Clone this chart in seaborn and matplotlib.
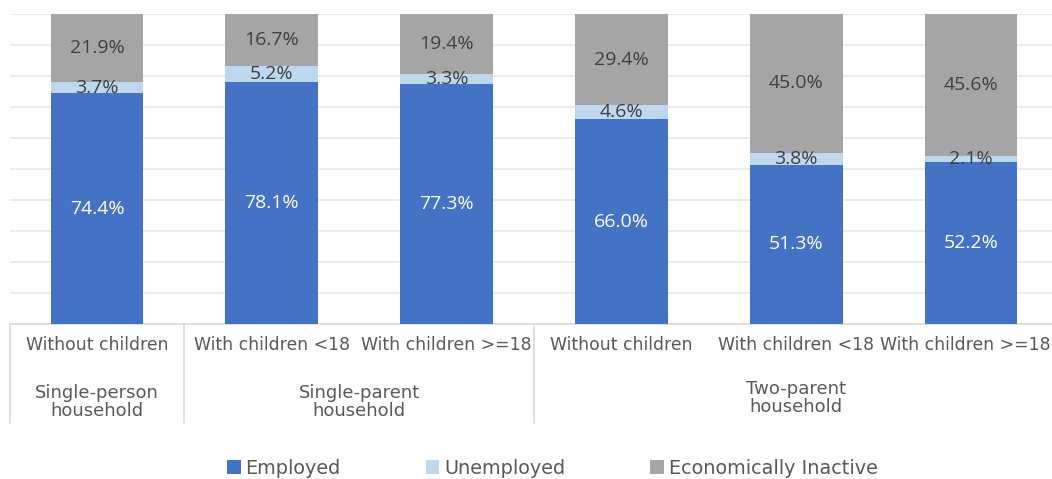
import matplotlib
matplotlib.use("Agg")
import matplotlib.pyplot as plt
import matplotlib.transforms as mtransforms
from matplotlib.patches import Patch
import seaborn as sns
import pandas as pd

# ---- data ----
sub_labels = ["Without children", "With children <18", "With children >=18",
              "Without children", "With children <18", "With children >=18"]
group_labels = ["Single-person\nhousehold", "Single-parent\nhousehold", "Two-parent\nhousehold"]
group_spans = [(0, 0), (1, 2), (3, 5)]
employed = [74.4, 78.1, 77.3, 66.0, 51.3, 52.2]
unemployed = [3.7, 5.2, 3.3, 4.6, 3.8, 2.1]
inactive = [21.9, 16.7, 19.4, 29.4, 45.0, 45.6]
series_names = ["Employed", "Unemployed", "Economically Inactive"]
series_colors = ["#4472C4", "#BDD7EE", "#A5A5A5"]
label_colors = ["white", "#404040", "#404040"]

sns.set_theme(style="white")
plt.rcParams["font.family"] = ["DejaVu Sans"]

W, H = 1052, 479
fig = plt.figure(figsize=(W / 100, H / 100), dpi=100)
ax_left, ax_right, ax_top, ax_bottom = 9.6, 1058.5, 14, 324
ax = fig.add_axes([ax_left / W, (H - ax_bottom) / H,
                   (ax_right - ax_left) / W, (ax_bottom - ax_top) / H])

keys = [f"c{i}" for i in range(len(sub_labels))]
df = pd.DataFrame({"key": keys, "Employed": employed,
                   "Unemployed": unemployed, "Economically Inactive": inactive})

bottom = [0.0] * len(keys)
for name, col, lc in zip(series_names, series_colors, label_colors):
    vals = df[name].tolist()
    sns.barplot(data=df, x="key", y=name, order=keys, color=col,
                bottom=bottom, width=0.53, ax=ax, saturation=1,
                edgecolor="none", linewidth=0, zorder=3)
    for i, v in enumerate(vals):
        ax.text(i, bottom[i] + v / 2, f"{v:.1f}%", ha="center", va="center",
                color=lc, fontsize=14, family=["Open Sans", "DejaVu Sans"], zorder=5)
    bottom = [b + v for b, v in zip(bottom, vals)]

ax.set_ylim(0, 100)
ax.set_xlim(-0.5, len(keys) - 0.5)
ax.set_yticks(range(0, 101, 10))
ax.set_yticklabels([])
ax.tick_params(axis="y", length=0)
ax.yaxis.grid(True, color="#E7E7E7", linewidth=1.2, zorder=0)
ax.set_axisbelow(True)
for s in ["top", "right", "left"]:
    ax.spines[s].set_visible(False)
ax.spines["bottom"].set_color("#D9D9D9")
ax.spines["bottom"].set_linewidth(1.2)
ax.set_xlabel("")
ax.set_ylabel("")
ax.set_xticks(range(len(keys)))
ax.set_xticklabels(sub_labels, fontsize=12.4, color="#595959")
ax.tick_params(axis="x", length=0, pad=9)
# nudge the last tick label left so it stays inside the figure
last = ax.get_xticklabels()[-1]
last.set_transform(last.get_transform() +
                   mtransforms.ScaledTranslation(-6 / 100, 0, fig.dpi_scale_trans))

trans = mtransforms.blended_transform_factory(ax.transData, ax.transAxes)
ax_h = ax_bottom - ax_top
sep_bottom = -(423 - ax_bottom) / ax_h
for xs in [-0.5, 0.5, 2.5]:
    ax.plot([xs, xs], [0, sep_bottom], transform=trans, color="#D9D9D9",
            linewidth=1.2, clip_on=False)

group_y = [402, 402, 398]
for (a, b), gl, gy in zip(group_spans, group_labels, group_y):
    ax.text((a + b) / 2, -(gy - ax_bottom) / ax_h, gl, transform=trans,
            ha="center", va="center", fontsize=13, color="#595959",
            linespacing=0.95)

handles = [Patch(facecolor=c, edgecolor="none") for c in series_colors]
fig.legend(handles, series_names, loc="center", bbox_to_anchor=(0.525, 11 / H),
           ncol=3, frameon=False, fontsize=13.9, handlelength=0.7,
           handleheight=0.7, handletextpad=0.25, columnspacing=4.4,
           labelcolor="#595959")

fig.savefig("out.png", dpi=100)
